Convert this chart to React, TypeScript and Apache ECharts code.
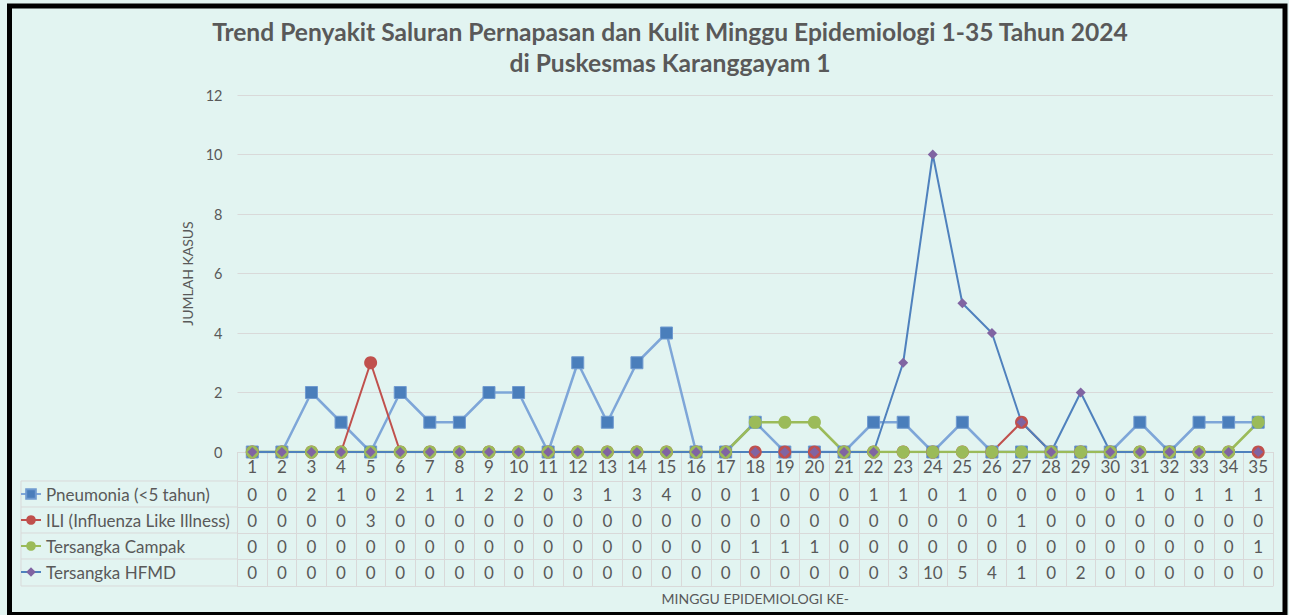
import React, { useEffect, useRef } from "react";
import * as echarts from "echarts";

const weeks = ["1","2","3","4","5","6","7","8","9","10","11","12","13","14","15","16","17","18","19","20","21","22","23","24","25","26","27","28","29","30","31","32","33","34","35"];
const pneumonia = [0,0,2,1,0,2,1,1,2,2,0,3,1,3,4,0,0,1,0,0,0,1,1,0,1,0,0,0,0,0,1,0,1,1,1];
const ili = [0,0,0,0,3,0,0,0,0,0,0,0,0,0,0,0,0,0,0,0,0,0,0,0,0,0,1,0,0,0,0,0,0,0,0];
const campak = [0,0,0,0,0,0,0,0,0,0,0,0,0,0,0,0,0,1,1,1,0,0,0,0,0,0,0,0,0,0,0,0,0,0,1];
const hfmd = [0,0,0,0,0,0,0,0,0,0,0,0,0,0,0,0,0,0,0,0,0,0,3,10,5,4,1,0,2,0,0,0,0,0,0];
const seriesNames = ["Pneumonia (<5 tahun)", "ILI (Influenza Like Illness)", "Tersangka Campak", "Tersangka HFMD"];
const titleLines = ["Trend Penyakit Saluran Pernapasan dan Kulit Minggu Epidemiologi 1-35 Tahun 2024", "di Puskesmas Karanggayam 1"];

const FONT = "Lato, 'Open Sans', sans-serif";
const TXT = "#595959";
const GRIDC = "#D9D9D9";

export default function App() {
  const ref = useRef<HTMLDivElement>(null);
  useEffect(() => {
    if (!ref.current) return;
    const chart = echarts.init(ref.current, null, { renderer: "svg" });
    const rows = [pneumonia, ili, campak, hfmd];
    const rowAxes: any[] = rows.map((vals, i) => ({
      type: "category",
      gridIndex: 0,
      data: weeks,
      position: "bottom",
      offset: 29 + 26 * i,
      axisLine: { show: true, lineStyle: { color: GRIDC, width: 1 } },
      axisTick: { show: false },
      splitLine: { show: false },
      axisLabel: {
        interval: 0, margin: 5, fontSize: 17, color: TXT, fontFamily: FONT,
        formatter: (_v: string, idx: number) => String(vals[idx]),
      },
    }));
    const leftLines: any[] = [481, 507, 533, 559, 586].map((y) => ({
      type: "line", shape: { x1: 21, y1: y, x2: 237.5, y2: y }, style: { stroke: GRIDC, lineWidth: 1 }, silent: true,
    }));
    leftLines.push({ type: "line", shape: { x1: 21, y1: 481, x2: 21, y2: 586 }, style: { stroke: GRIDC, lineWidth: 1 }, silent: true });

    const option: any = {
      animation: false,
      backgroundColor: "#E2F4F1",
      grid: { left: 237.5, right: 16, top: 95, height: 357 },
      legend: seriesNames.map((n, i) => ({
        data: [n], left: 20, top: 484 + 26 * i, orient: "vertical", itemWidth: 20, itemHeight: 12,
        padding: 0, selectedMode: false,
        textStyle: { color: TXT, fontSize: 17, fontFamily: FONT, lineHeight: 20 },
      })),
      xAxis: [
        {
          type: "category",
          data: weeks,
          position: "bottom",
          axisLine: { show: true, lineStyle: { color: GRIDC } },
          axisTick: { show: true, length: 134, lineStyle: { color: GRIDC } },
          axisLabel: { interval: 0, margin: 6, fontSize: 17, color: TXT, fontFamily: FONT },
          splitLine: { show: false },
        },
        ...rowAxes,
        {
          type: "category",
          data: weeks,
          position: "bottom",
          offset: 134,
          axisLine: { show: true, lineStyle: { color: GRIDC } },
          axisTick: { show: false },
          axisLabel: { show: false },
          name: "MINGGU EPIDEMIOLOGI KE-",
          nameLocation: "middle",
          nameGap: 5,
          nameTextStyle: { color: TXT, fontSize: 14, fontFamily: FONT },
        },
      ],
      yAxis: {
        type: "value", min: 0, max: 12, interval: 2,
        axisLine: { show: false }, axisTick: { show: false },
        axisLabel: { color: TXT, fontSize: 14.5, fontFamily: FONT, margin: 15 },
        splitLine: { lineStyle: { color: GRIDC, width: 1 } },
        name: "JUMLAH KASUS", nameLocation: "middle", nameGap: 41,
        nameTextStyle: { color: TXT, fontSize: 14, fontFamily: FONT },
      },
      series: [
        {
          name: seriesNames[0], type: "line", data: pneumonia, symbol: "rect", symbolSize: 12,
          itemStyle: { color: "#4A7EBB", borderColor: "#6F9AD0", borderWidth: 1 },
          lineStyle: { color: "#7EA6D8", width: 2.5 },
        },
        {
          name: seriesNames[1], type: "line", data: ili, symbol: "circle", symbolSize: 13,
          itemStyle: { color: "#C0504D" },
          lineStyle: { color: "#C0504D", width: 2 },
        },
        {
          name: seriesNames[2], type: "line", data: campak, symbol: "circle", symbolSize: 13,
          itemStyle: { color: "#9BBB59" },
          lineStyle: { color: "#9BBB59", width: 2.5 },
        },
        {
          name: seriesNames[3], type: "line", data: hfmd, symbol: "diamond", symbolSize: 10,
          itemStyle: { color: "#8064A2" },
          lineStyle: { color: "#4F81BD", width: 2 },
        },
      ],
      graphic: [
        {
          type: "text", x: 670, y: 31, silent: true,
          style: { text: titleLines[0], fill: TXT, font: `bold 24.6px ${FONT}`, align: "center", verticalAlign: "middle" },
        },
        {
          type: "text", x: 670, y: 62, silent: true,
          style: { text: titleLines[1], fill: TXT, font: `bold 24.6px ${FONT}`, align: "center", verticalAlign: "middle" },
        },
        ...leftLines,
        {
          type: "rect", shape: { x: 9.5, y: 6, width: 1275.5, height: 608.5 },
          style: { fill: "none", stroke: "#000", lineWidth: 5 }, silent: true, z: 100,
        },
      ],
    };
    chart.setOption(option);
    return () => chart.dispose();
  }, []);
  return (
    <div style={{ position: "absolute", left: 0, top: 0, width: 1289, height: 615, background: "#E2F4F1" }}>
      <div ref={ref} style={{ width: 1289, height: 615 }} />
    </div>
  );
}
